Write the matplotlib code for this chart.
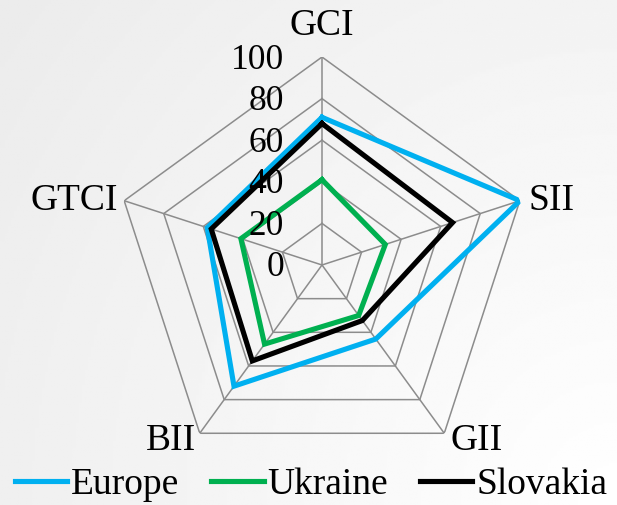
import numpy as np
import matplotlib
matplotlib.use("Agg")
import matplotlib.pyplot as plt

plt.rcParams['font.family'] = ['Liberation Serif', 'DejaVu Serif']

categories = ["GCI", "SII", "GII", "BII", "GTCI"]
europe = [71, 100, 44, 72, 58]
ukraine = [41, 32, 30, 47, 41]
slovakia = [68, 66, 33, 57, 56]
levels = [0, 20, 40, 60, 80, 100]

series = [("Europe", europe, "#00b0f0"),
          ("Ukraine", ukraine, "#00b050"),
          ("Slovakia", slovakia, "#000000")]

W, H = 617, 505
fig = plt.figure(figsize=(W / 100, H / 100), dpi=100)

# light grey gradient background
bg = fig.add_axes([0, 0, 1, 1], zorder=-10)
gx, gy = np.meshgrid(np.linspace(0, 1, 200), np.linspace(0, 1, 200))
dist = np.sqrt((1 - gx) ** 2 + (gy) ** 2 * 0.6)
bg.imshow(1 - 0.08 * np.clip(dist, 0, 1.3) / 1.3, cmap="gray", vmin=0, vmax=1,
          extent=[0, 1, 0, 1], aspect="auto", origin="lower")
bg.axis("off")

# polar axes centred at (322, 265) px with radius 208 px
cx, cy, R = 322, 265, 208
ax = fig.add_axes([(cx - R) / W, (H - cy - R) / H, 2 * R / W, 2 * R / H],
                  projection="polar")
ax.set_theta_offset(np.pi / 2)
ax.set_theta_direction(-1)
ax.set_ylim(0, 100)
ax.grid(False)
ax.spines["polar"].set_visible(False)
ax.set_xticks([])
ax.set_yticks([])
ax.patch.set_alpha(0)

n = len(categories)
theta = np.linspace(0, 2 * np.pi, n, endpoint=False)
theta_c = np.append(theta, theta[0])

# polygon grid
for lv in levels[1:]:
    ax.plot(theta_c, [lv] * (n + 1), color="#8c8c8c", lw=1.1, zorder=1)
for t in theta:
    ax.plot([t, t], [0, 100], color="#8c8c8c", lw=1.1, zorder=1)

# data
for name, vals, col in series:
    ax.plot(theta_c, vals + vals[:1], color=col, lw=3.7, label=name,
            solid_joinstyle="miter", zorder=3)

# radial tick labels
for lv in levels:
    ax.annotate(str(lv), xy=(0, lv), xytext=(-38, -3), textcoords="offset pixels",
                ha="right", va="center", fontsize=25.5, zorder=4,
                annotation_clip=False)

# category labels
label_pos = [((0, 31), "center"), ((9, 0), "left"), ((6, -7), "left"),
             ((-4, -7), "right"), ((-6, 0), "right")]
for t, cat, (off, ha) in zip(theta, categories, label_pos):
    ax.annotate(cat, xy=(t, 100), xytext=off, textcoords="offset pixels",
                ha=ha, va="center", fontsize=27, annotation_clip=False)

fig.legend(loc="center", bbox_to_anchor=(311 / W, 1 - 485 / H), ncol=3,
           frameon=False, fontsize=27, handlelength=1.4, handletextpad=0.1,
           columnspacing=0.85, borderaxespad=0)

fig.savefig("out.png", dpi=100)
